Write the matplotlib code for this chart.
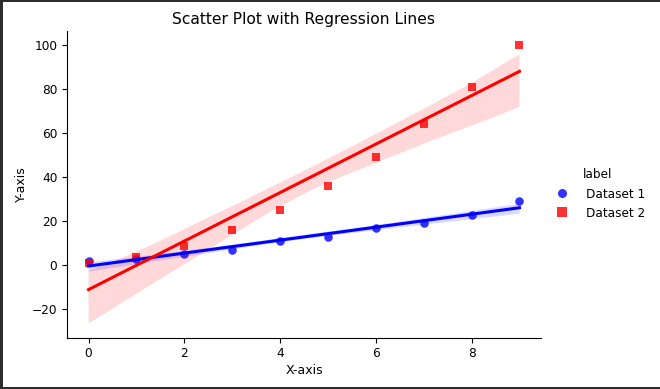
import numpy as np
import matplotlib
matplotlib.use("Agg")
import matplotlib.pyplot as plt
import seaborn as sns
from matplotlib.patches import Rectangle
from matplotlib.lines import Line2D

x_values = [0, 1, 2, 3, 4, 5, 6, 7, 8, 9]
dataset1 = [2, 3, 5, 7, 11, 13, 17, 19, 23, 29]
dataset2 = [1, 4, 9, 16, 25, 36, 49, 64, 81, 100]
labels = ["Dataset 1", "Dataset 2"]
colors = ["blue", "red"]
markers = ["o", "s"]

W, H = 660, 389
fig = plt.figure(figsize=(W / 100, H / 100), dpi=100)
ax = fig.add_axes([67 / W, 1 - 337.5 / H, (541 - 67) / W, (337.5 - 31) / H])

for ys, c, m in zip([dataset1, dataset2], colors, markers):
    sns.regplot(x=np.array(x_values), y=np.array(ys), ax=ax, color=c, marker=m,
                scatter_kws={"s": 38, "alpha": 0.8, "linewidths": 0},
                line_kws={"lw": 2.2}, seed=3, ci=95)

ax.spines["top"].set_visible(False)
ax.spines["right"].set_visible(False)
ax.set_title("Scatter Plot with Regression Lines", fontsize=11.2, pad=5)
ax.set_xlabel("X-axis", fontsize=9, labelpad=3)
ax.set_ylabel("Y-axis", fontsize=9, labelpad=3)
ax.tick_params(labelsize=8.7, length=3.5, width=0.8)
ax.set_xticks([0, 2, 4, 6, 8])
ax.set_yticks([-20, 0, 20, 40, 60, 80, 100])

handles = [Line2D([], [], ls="none", marker=m, color=c, alpha=0.8, markersize=6.5, mew=0)
           for c, m in zip(colors, markers)]
leg = fig.legend(handles, labels, title="label", loc="center left",
                 bbox_to_anchor=(539 / W, 1 - 194 / H), frameon=False,
                 fontsize=8.7, title_fontsize=8.7, handletextpad=1.0)

border = "#2d2d2d"
fig.add_artist(Rectangle((0, 0), 3 / W, 1, transform=fig.transFigure, color=border, lw=0))
fig.add_artist(Rectangle((0, 1 - 1.5 / H), 1, 1.5 / H, transform=fig.transFigure, color=border, lw=0))
fig.add_artist(Rectangle((0, 0), 1, 2.5 / H, transform=fig.transFigure, color=border, lw=0))

fig.savefig("out.png", dpi=100)
